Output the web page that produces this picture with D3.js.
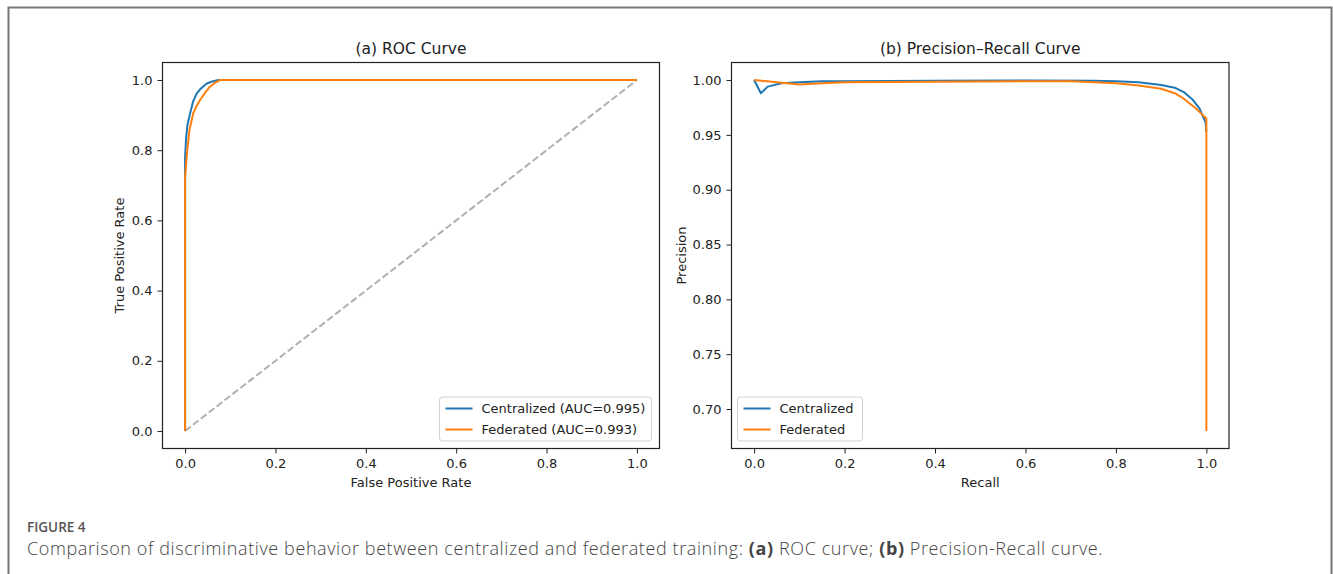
<!DOCTYPE html>
<html lang="en">
<head>
    <meta charset="UTF-8">
    <title>ROC and Precision-Recall</title>
    <script src="https://d3js.org/d3.v7.min.js"></script>
    <style>
        body { margin: 0; background: #fff; }
        .tick text { font-family: "DejaVu Sans", sans-serif; font-size: 13px; fill: #222; }
        .tick line, .domain { stroke: #222; }
        .lbl { font-family: "DejaVu Sans", sans-serif; font-size: 13px; fill: #222; }
        .ttl { font-family: "DejaVu Sans", sans-serif; font-size: 15.5px; fill: #222; }
    </style>
</head>
<body>
<svg width="1333" height="574"></svg>
<script>
// ROC curve points
const rocFprC = [0, 0, 0.002, 0.005, 0.011, 0.018, 0.026, 0.035, 0.048, 0.06, 0.074, 0.2, 0.5, 1.0];
const rocTprC = [0, 0.78, 0.83, 0.87, 0.905, 0.94, 0.962, 0.976, 0.99, 0.996, 1.0, 1.0, 1.0, 1.0];
const rocFprF = [0, 0, 0.004, 0.01, 0.018, 0.025, 0.033, 0.045, 0.055, 0.066, 0.077, 0.3, 1.0];
const rocTprF = [0, 0.72, 0.79, 0.86, 0.905, 0.925, 0.943, 0.965, 0.981, 0.992, 1.0, 1.0, 1.0];

// precision-recall points
const prRecC = [0, 0.015, 0.03, 0.06, 0.1, 0.15, 0.2, 0.4, 0.6, 0.75, 0.8, 0.85, 0.9, 0.93, 0.95, 0.97, 0.985, 0.993, 0.998, 1.0];
const prPrecC = [1.0, 0.988, 0.994, 0.997, 0.998, 0.999, 0.9988, 0.9993, 0.9995, 0.9993, 0.999, 0.998, 0.9955, 0.993, 0.989, 0.982, 0.974, 0.966, 0.962, 0.953];
const prRecF = [0, 0.05, 0.1, 0.15, 0.2, 0.4, 0.6, 0.7, 0.8, 0.85, 0.9, 0.93, 0.95, 0.977, 0.992, 1.0, 1.0];
const prPrecF = [1.0, 0.998, 0.996, 0.997, 0.998, 0.9985, 0.999, 0.9988, 0.997, 0.995, 0.992, 0.988, 0.983, 0.974, 0.968, 0.965, 0.68];

const xTicks = [0, 0.2, 0.4, 0.6, 0.8, 1.0];
const rocYTicks = [0, 0.2, 0.4, 0.6, 0.8, 1.0];
const prYTicks = [0.70, 0.75, 0.80, 0.85, 0.90, 0.95, 1.00];

const blue = "#1f77b4", orange = "#ff7f0e";
const svg = d3.select("svg");

// figure frame (open at the bottom)
svg.append("path")
    .attr("d", "M8.5,574 V7.5 H1331.5 V574")
    .attr("fill", "none").attr("stroke", "#777").attr("stroke-width", 2);

function panel(opt) {
    const x = d3.scaleLinear().domain(opt.xDom).range([opt.left, opt.right]);
    const y = d3.scaleLinear().domain(opt.yDom).range([448.5, 62.5]);
    const g = svg.append("g");

    g.append("g").attr("transform", "translate(0,448.5)")
        .call(d3.axisBottom(x).tickValues(xTicks).tickFormat(d3.format(".1f")).tickSize(5).tickPadding(5))
        .call(a => a.select(".domain").remove());
    g.append("g").attr("transform", `translate(${opt.left},0)`)
        .call(d3.axisLeft(y).tickValues(opt.yTicks).tickFormat(d3.format(opt.yFmt)).tickSize(5).tickPadding(5))
        .call(a => a.select(".domain").remove());

    const line = d3.line().x(d => x(d[0])).y(d => y(d[1]));
    if (opt.diag) {
        g.append("path").attr("d", line([[0, 0], [1, 1]]))
            .attr("fill", "none").attr("stroke", "#b0b0b0").attr("stroke-width", 2)
            .attr("stroke-dasharray", "7,3");
    }
    opt.series.forEach(s => {
        g.append("path").attr("d", line(d3.zip(s.xs, s.ys)))
            .attr("fill", "none").attr("stroke", s.color).attr("stroke-width", 2)
            .attr("stroke-linejoin", "round");
    });

    g.append("rect").attr("x", opt.left).attr("y", 62.5)
        .attr("width", opt.right - opt.left).attr("height", 448.5 - 62.5)
        .attr("fill", "none").attr("stroke", "#222").attr("stroke-width", 1.2);

    const cx = (opt.left + opt.right) / 2;
    g.append("text").attr("class", "ttl").attr("x", cx).attr("y", 54)
        .attr("text-anchor", "middle").text(opt.title);
    g.append("text").attr("class", "lbl").attr("x", cx).attr("y", 487)
        .attr("text-anchor", "middle").text(opt.xLabel);
    g.append("text").attr("class", "lbl")
        .attr("transform", `translate(${opt.yLabelX},255.5) rotate(-90)`)
        .attr("text-anchor", "middle").text(opt.yLabel);

    // legend
    const lg = g.append("g");
    lg.append("rect").attr("x", opt.legX).attr("y", 397).attr("width", opt.legW).attr("height", 44)
        .attr("rx", 3).attr("fill", "#fff").attr("fill-opacity", 0.85)
        .attr("stroke", "#d0d0d0");
    opt.series.forEach((s, i) => {
        const yy = 408.5 + i * 21;
        lg.append("line").attr("x1", opt.legX + 6).attr("x2", opt.legX + 33)
            .attr("y1", yy).attr("y2", yy).attr("stroke", s.color).attr("stroke-width", 2);
        lg.append("text").attr("class", "lbl").attr("x", opt.legX + 42).attr("y", yy + 4.5)
            .text(s.name);
    });
}

panel({
    left: 162.5, right: 659.5, xDom: [-0.05, 1.05], yDom: [-0.05, 1.05],
    yTicks: rocYTicks, yFmt: ".1f", diag: true,
    title: "(a) ROC Curve", xLabel: "False Positive Rate", yLabel: "True Positive Rate", yLabelX: 124,
    legX: 439.5, legW: 212,
    series: [
        {name: "Centralized (AUC=0.995)", xs: rocFprC, ys: rocTprC, color: blue},
        {name: "Federated (AUC=0.993)", xs: rocFprF, ys: rocTprF, color: orange}
    ]
});

panel({
    left: 731.5, right: 1229, xDom: [-0.05, 1.05], yDom: [0.664, 1.016],
    yTicks: prYTicks, yFmt: ".2f", diag: false,
    title: "(b) Precision\u2013Recall Curve", xLabel: "Recall", yLabel: "Precision", yLabelX: 686,
    legX: 737.5, legW: 125,
    series: [
        {name: "Centralized", xs: prRecC, ys: prPrecC, color: blue},
        {name: "Federated", xs: prRecF, ys: prPrecF, color: orange}
    ]
});

// caption
svg.append("text").attr("x", 27).attr("y", 532)
    .attr("font-family", "'Open Sans', sans-serif").attr("font-size", 13.5).attr("font-weight", 600)
    .attr("fill", "#555").text("FIGURE 4");
const cap = svg.append("text").attr("x", 27).attr("y", 555)
    .attr("font-family", "'Open Sans', sans-serif").attr("font-size", 18).attr("font-weight", 300)
    .attr("letter-spacing", 0.6).attr("fill", "#444");
cap.append("tspan").text("Comparison of discriminative behavior between centralized and federated training: ");
cap.append("tspan").attr("font-weight", "bold").text("(a)");
cap.append("tspan").text(" ROC curve; ");
cap.append("tspan").attr("font-weight", "bold").text("(b)");
cap.append("tspan").text(" Precision-Recall curve.");
</script>
</body>
</html>
